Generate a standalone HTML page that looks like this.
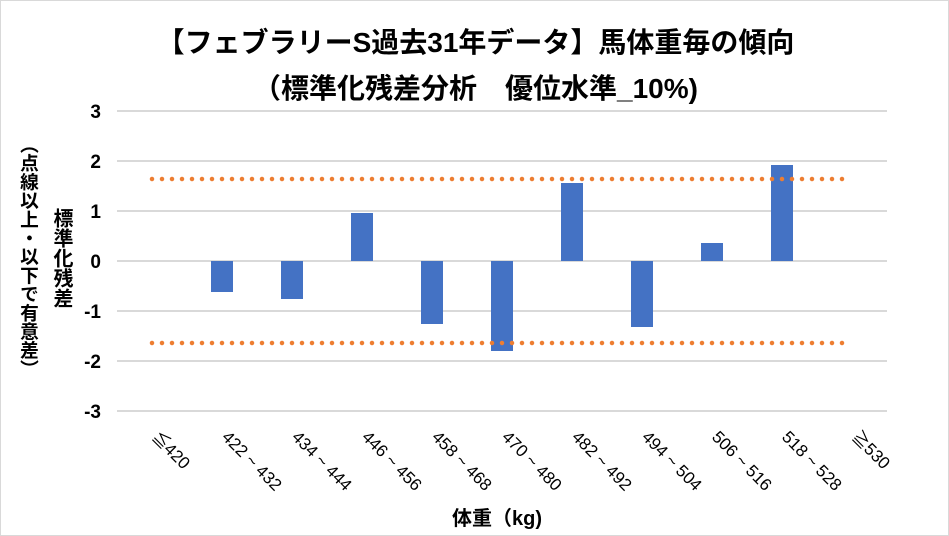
<!DOCTYPE html><html><head><meta charset="utf-8"><style>
body{margin:0;background:#fff}
.wrap{position:relative;width:949px;height:536px;overflow:hidden;border:1px solid #d9d9d9;box-sizing:border-box;font-family:"Liberation Sans","Noto Sans CJK JP",sans-serif;font-weight:bold;color:#000}
.t{position:absolute;left:0;width:949px;text-align:center;font-size:28px;line-height:32px}
.v{position:absolute;writing-mode:vertical-rl;font-size:19px;line-height:22px;letter-spacing:0px}
</style></head><body><div class="wrap">
<div class="t" style="top:26px">【フェブラリーS過去31年データ】馬体重毎の傾向</div>
<div class="t" style="top:72px">（標準化残差分析　優位水準_10%)</div>
<div class="v" style="left:49px;top:207px;font-size:20px">標準化残差</div>
<div class="v" style="left:16px;top:134px;font-size:18.7px">（点線以上・以下で有意差）</div>
<svg width="949" height="536" style="position:absolute;left:0;top:0" font-family="Liberation Sans, Noto Sans CJK JP, sans-serif" font-weight="bold">
<g stroke="#d9d9d9" stroke-width="2">
<line x1="116" x2="886" y1="110" y2="110"/><line x1="116" x2="886" y1="160" y2="160"/><line x1="116" x2="886" y1="210" y2="210"/><line x1="116" x2="886" y1="260" y2="260"/><line x1="116" x2="886" y1="310" y2="310"/><line x1="116" x2="886" y1="360" y2="360"/><line x1="116" x2="886" y1="410" y2="410"/></g>
<g font-size="19" text-anchor="end">
<text x="100" y="117">3</text><text x="100" y="167">2</text><text x="100" y="217">1</text><text x="100" y="267">0</text><text x="100" y="317">-1</text><text x="100" y="367">-2</text><text x="100" y="417">-3</text></g>
<g fill="#4472c4">
<rect x="210" y="260" width="22" height="31"/>
<rect x="280" y="260" width="22" height="38"/>
<rect x="350" y="212" width="22" height="48"/>
<rect x="420" y="260" width="22" height="63"/>
<rect x="490" y="260" width="22" height="90"/>
<rect x="560" y="182" width="22" height="78"/>
<rect x="630" y="260" width="22" height="66"/>
<rect x="700" y="242" width="22" height="18"/>
<rect x="770" y="164" width="22" height="96"/>
</g>
<g stroke="#ed7d31" stroke-width="4.5" stroke-linecap="round" stroke-dasharray="0 10">
<line x1="151" x2="846" y1="178" y2="178"/><line x1="151" x2="846" y1="342" y2="342"/></g>
<g font-size="17" font-weight="normal">
<text transform="translate(150,437) rotate(45)">≦420</text>
<text transform="translate(220,437) rotate(45)">422 ~ 432</text>
<text transform="translate(290,437) rotate(45)">434 ~ 444</text>
<text transform="translate(360,437) rotate(45)">446 ~ 456</text>
<text transform="translate(430,437) rotate(45)">458 ~ 468</text>
<text transform="translate(500,437) rotate(45)">470 ~ 480</text>
<text transform="translate(570,437) rotate(45)">482 ~ 492</text>
<text transform="translate(640,437) rotate(45)">494 ~ 504</text>
<text transform="translate(710,437) rotate(45)">506 ~ 516</text>
<text transform="translate(780,437) rotate(45)">518 ~ 528</text>
<text transform="translate(850,437) rotate(45)">≧530</text>
</g>
<text x="496" y="524" font-size="20" text-anchor="middle">体重（kg)</text>
</svg></div></body></html>
